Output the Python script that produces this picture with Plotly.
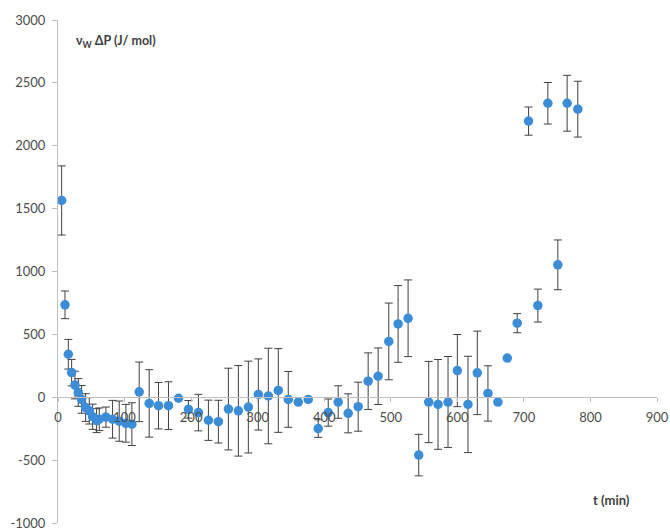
import plotly.graph_objects as go

# Time after start (min)
t_min = [5.5, 10.5, 15.5, 20.5, 25.5, 30.5, 35.5, 41.5, 47, 52, 58, 62, 72, 82, 92, 102, 111,
         122, 137, 151, 166, 181, 196, 211, 226, 241, 256, 271, 286, 301, 316, 331, 346, 361,
         376, 391, 406, 421, 436, 451, 466, 481, 497, 511, 526, 542, 557, 571, 586, 600, 616,
         630, 646, 661, 675, 690, 707, 721, 736, 751, 765, 781]

# vW·ΔP (J/mol)
dp = [1565, 735, 342, 196, 97, 38, -17, -82, -108, -155, -186, -175, -158, -175, -190, -207, -214,
      43, -49, -67, -67, -8, -96, -122, -183, -194, -94, -108, -78, 22, 10, 54, -17, -38,
      -17, -249, -122, -38, -128, -75, 128, 167, 444, 583, 628, -460, -38, -57, -38, 212, -57,
      194, 30, -38, 312, 589, 2196, 729, 2338, 1053, 2338, 2291]

# Standard deviation of each point
dp_err = [275, 110, 118, 105, 110, 110, 110, 110, 105, 100, 95, 90, 80, 150, 160, 150, 170,
          237, 268, 185, 190, 0, 70, 145, 160, 170, 325, 360, 365, 283, 380, 333, 222, 0,
          0, 70, 108, 129, 155, 195, 225, 225, 305, 305, 305, 165, 323, 357, 362, 287, 383,
          332, 220, 0, 0, 76, 112, 131, 165, 198, 222, 222]

x_ticks = list(range(0, 901, 100))
y_ticks = list(range(-1000, 3001, 500))

AXIS_GREY = "#BFBFBF"
TEXT_GREY = "#4D4D4D"
TITLE_GREY = "#404040"
FONT = "Lato"

fig = go.Figure()
fig.add_trace(go.Scatter(
    x=t_min, y=dp, mode="markers",
    marker=dict(color="#3C8DD8", size=9.5),
    error_y=dict(type="data", array=dp_err, visible=True,
                 color="#404040", thickness=1, width=4),
    showlegend=False,
))

fig.update_layout(
    width=670, height=532,
    margin=dict(l=58, r=13, t=20, b=9),
    paper_bgcolor="white", plot_bgcolor="white",
    font=dict(family=FONT, size=13, color=TEXT_GREY),
    xaxis=dict(
        range=[0, 900], tickvals=x_ticks, ticktext=[str(v) for v in x_ticks],
        showgrid=False, zeroline=False, showline=True, linecolor=AXIS_GREY, linewidth=1,
        ticks="outside", ticklen=4, tickcolor=AXIS_GREY,
        anchor="free", position=0.25, automargin=False,
        ticklabeloverflow="allow", ticklabelstandoff=4,
        tickfont=dict(family=FONT, size=13, color=TEXT_GREY),
    ),
    # second copy of the x axis supplies the upper half of the crossing tick marks
    xaxis2=dict(
        range=[0, 900], tickvals=x_ticks, overlaying="x",
        showgrid=False, zeroline=False, showline=False, showticklabels=False,
        ticks="inside", ticklen=4, tickcolor=AXIS_GREY,
        anchor="free", position=0.25, automargin=False,
    ),
    yaxis=dict(
        range=[-1000, 3000], tickvals=y_ticks, ticktext=[str(v) for v in y_ticks],
        domain=[0, 1],
        showgrid=False, zeroline=False, showline=True, linecolor=AXIS_GREY, linewidth=1,
        ticks="outside", ticklen=5, tickcolor=AXIS_GREY, automargin=False,
        ticklabeloverflow="allow", ticklabelstandoff=4,
        tickfont=dict(family=FONT, size=13, color=TEXT_GREY),
    ),
    annotations=[
        dict(x=24, y=2826, xref="x", yref="y", xanchor="left", yanchor="middle",
             text="<b>ν<sub>W</sub> ΔP (J/ mol)</b>", showarrow=False,
             font=dict(family=FONT, size=12.5, color=TITLE_GREY)),
        dict(x=832, y=-818, xref="x", yref="y", xanchor="center", yanchor="middle",
             text="<b>t (min)</b>", showarrow=False,
             font=dict(family=FONT, size=13, color=TITLE_GREY)),
    ],
)

fig.write_html("out.html")
